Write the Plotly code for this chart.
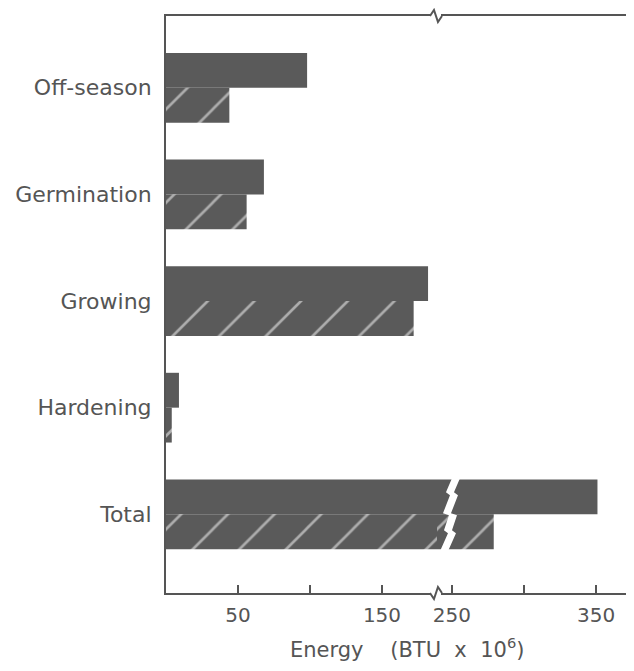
import plotly.graph_objects as go

# ---------------- data ----------------
categories = ["Off-season", "Germination", "Growing", "Hardening", "Total"]
solid_values = [98, 68, 182, 9, 351]      # upper (solid) bars
hatched_values = [44, 56, 172, 4, 279]    # lower (hatched) bars
ticks_left = [50, 100, 150]
ticklabels_left = ["50", "", "150"]
ticks_right = [250, 300, 350]
ticklabels_right = ["250", "", "350"]

# broken axis ranges
left_range = [0, 188.2]
right_range = [239.6, 371.5]
split = 0.5878  # fraction of plot width used by the left segment

BAR = "#5a5a5a"
INK = "#555555"
FONT = "DejaVu Sans"

ypos = list(range(len(categories)))

fig = go.Figure()
for xa, ya in (("x", "y"), ("x2", "y2")):
    fig.add_trace(go.Bar(
        y=ypos, x=solid_values, orientation="h", name="Solid",
        marker=dict(color=BAR, line=dict(width=0)),
        xaxis=xa, yaxis=ya, showlegend=False, hoverinfo="x"))
    fig.add_trace(go.Bar(
        y=ypos, x=hatched_values, orientation="h", name="Hatched",
        marker=dict(color=BAR, line=dict(width=0),
                    pattern=dict(shape="/", fgcolor="white", bgcolor=BAR,
                                 size=33, solidity=0.08)),
        xaxis=xa, yaxis=ya, showlegend=False, hoverinfo="x"))

axis_common = dict(showline=True, linecolor=INK, linewidth=2, mirror=True,
                   ticks="inside", ticklen=8, tickwidth=1.5, tickcolor=INK,
                   showgrid=False, zeroline=False, ticklabelstandoff=3,
                   tickfont=dict(family=FONT, size=20, color=INK))

fig.update_layout(
    width=626, height=663, autosize=False,
    margin=dict(l=158, r=7, t=6, b=78),
    paper_bgcolor="white", plot_bgcolor="white",
    barmode="group", bargap=0.346, bargroupgap=0,
    xaxis=dict(domain=[0, split], range=left_range, tickvals=ticks_left,
               ticktext=ticklabels_left, anchor="y", **axis_common),
    xaxis2=dict(domain=[split, 1], range=right_range, tickvals=ticks_right,
                ticktext=ticklabels_right, anchor="y2", **axis_common),
    yaxis=dict(range=[4.738, -0.673], tickvals=ypos, ticktext=categories,
               showline=True, linecolor=INK, linewidth=2, ticks="",
               showgrid=False, zeroline=False, anchor="x",
               ticklabelstandoff=8,
               tickfont=dict(family=FONT, size=22, color=INK)),
    yaxis2=dict(range=[4.738, -0.673], matches="y", anchor="x2", side="right",
                showline=True, linecolor=INK, linewidth=2, ticks="",
                showticklabels=False, showgrid=False, zeroline=False),
    annotations=[dict(
        text="Energy&nbsp;&nbsp;&nbsp;&nbsp;(BTU&nbsp;&nbsp;x&nbsp;&nbsp;10<sup>6</sup>)",
        xref="paper", yref="paper", x=0.523, y=0, yshift=-39,
        xanchor="center", yanchor="top", showarrow=False,
        font=dict(family=FONT, size=21, color=INK))],
)

shapes = []
# axis break marks on top and bottom frame lines
for yy, sign in ((1, 1), (0, -1)):
    shapes.append(dict(type="rect", xref="paper", yref="paper",
                       xsizemode="pixel", ysizemode="pixel",
                       xanchor=split, yanchor=yy,
                       x0=-6, x1=4, y0=-2, y1=2,
                       fillcolor="white", line=dict(width=0), layer="above"))
    shapes.append(dict(type="path", xref="paper", yref="paper",
                       xsizemode="pixel", ysizemode="pixel",
                       xanchor=split, yanchor=yy,
                       path=f"M-7,0 L-3,{6*sign} L1,{-6*sign} L5,0",
                       line=dict(color=INK, width=2), layer="above"))

# lightning-shaped break through the Total bars
center = [(19, 36), (13, 22), (17, 19), (10, 1), (16, -1), (11, -16), (15, -19), (7, -37)]
left_edge = [(x - 4, y) for x, y in center]
right_edge = [(x + 4, y) for x, y in reversed(center)]
pts = left_edge + right_edge
path = "M" + " L".join(f"{x},{y}" for x, y in pts) + " Z"
shapes.append(dict(type="path", xref="paper", yref="y",
                   xsizemode="pixel", ysizemode="pixel",
                   xanchor=split, yanchor=categories.index("Total"),
                   path=path, fillcolor="white", line=dict(width=0),
                   layer="above"))

fig.update_layout(shapes=shapes)
fig.write_html("out.html")
